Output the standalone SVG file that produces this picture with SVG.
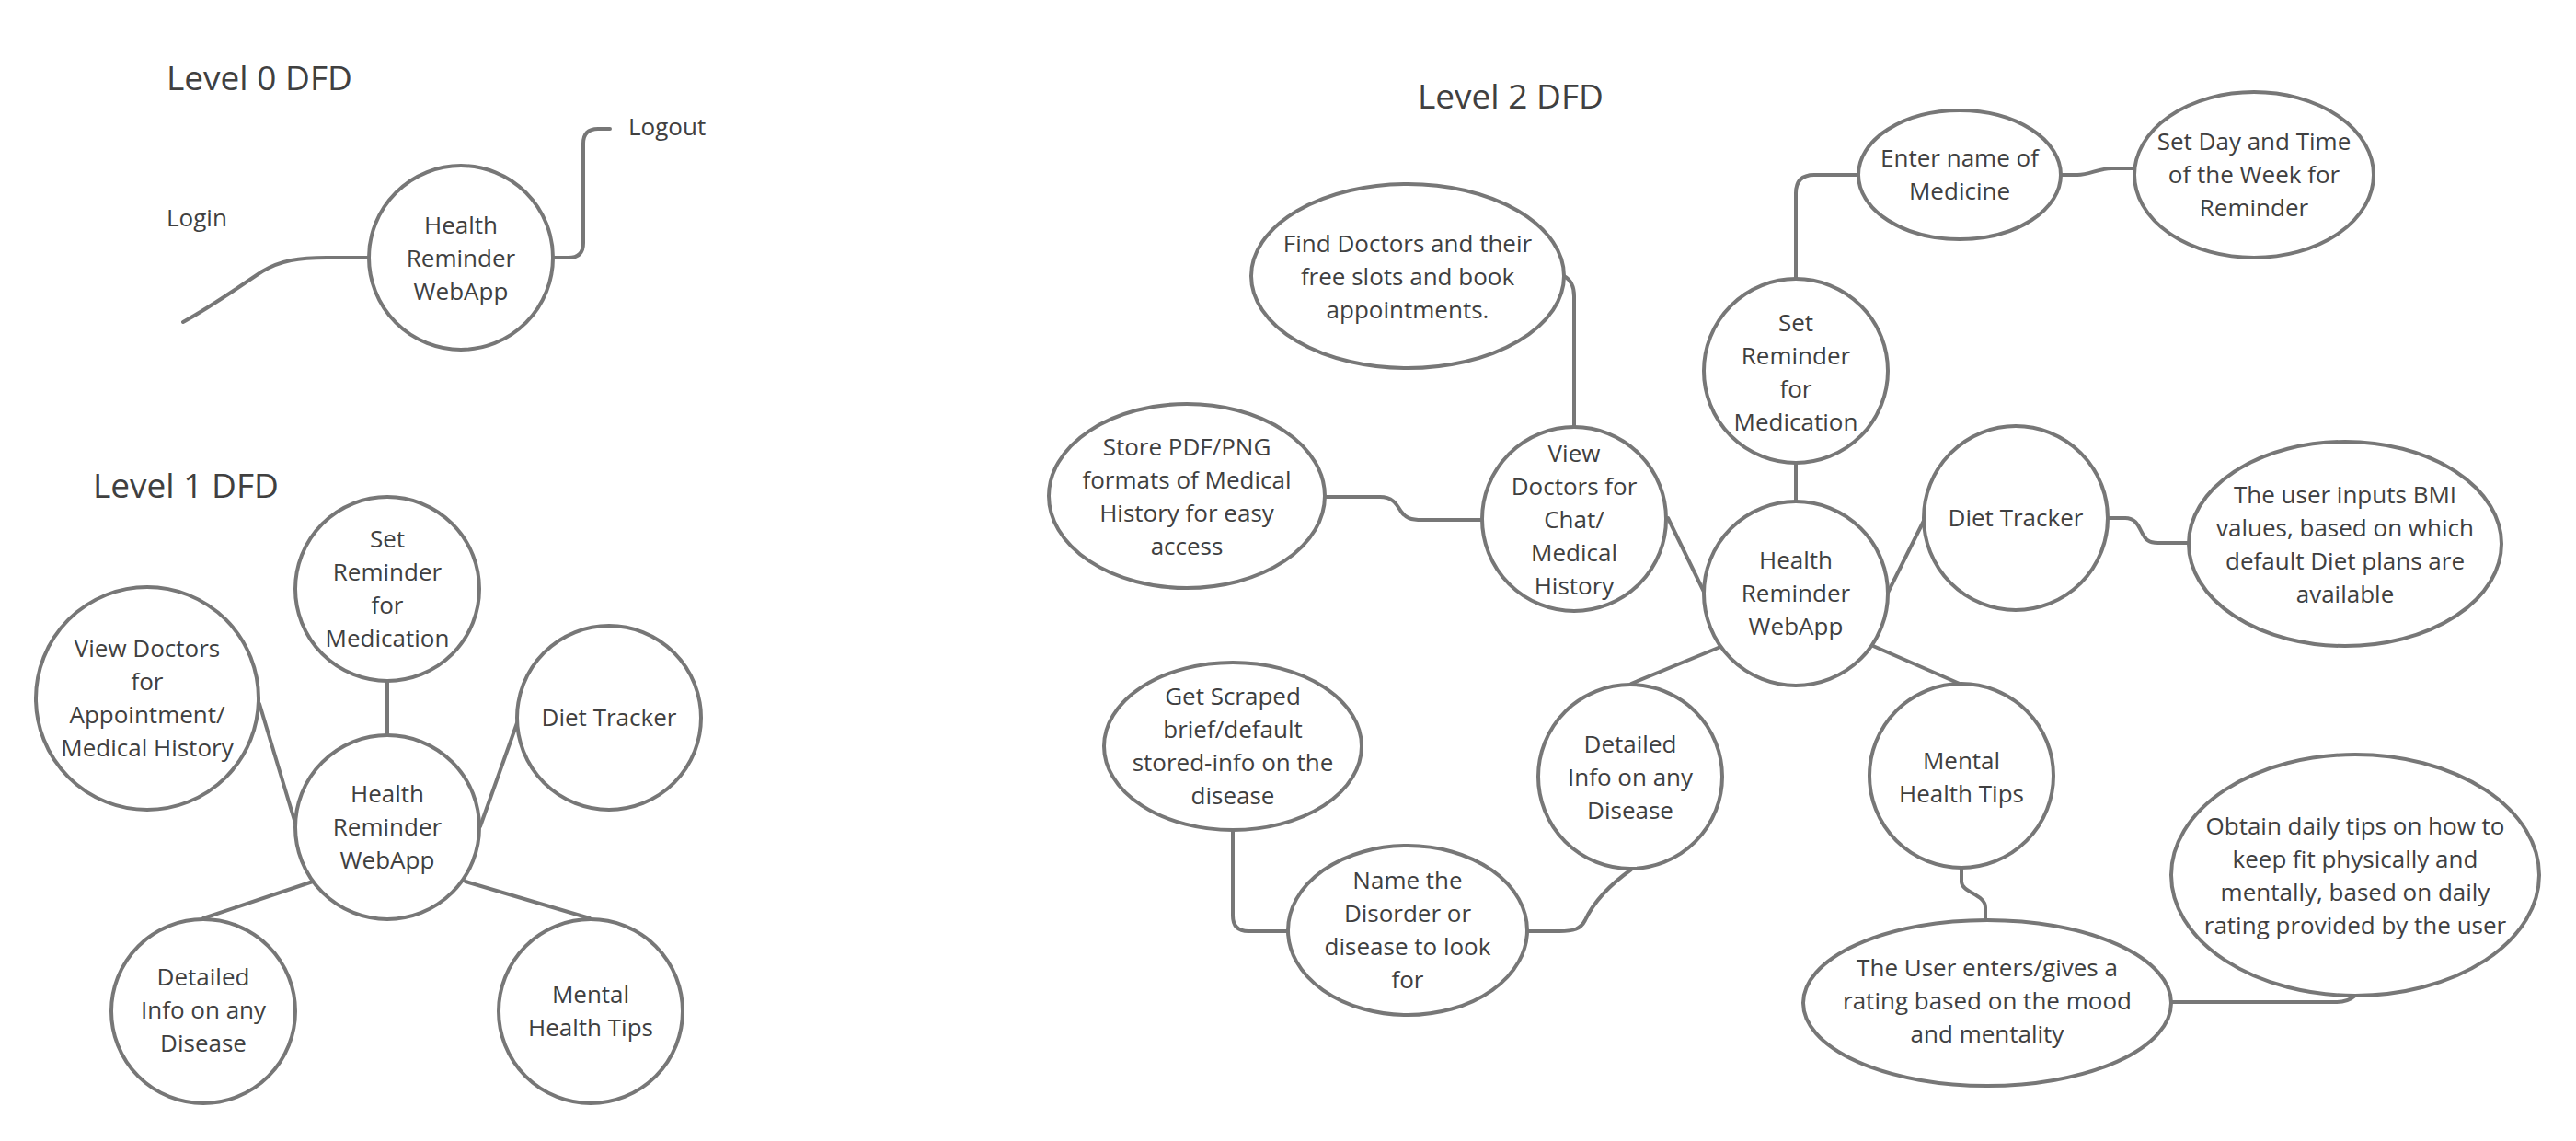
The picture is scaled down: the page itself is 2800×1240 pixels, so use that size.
<svg xmlns="http://www.w3.org/2000/svg" width="2800" height="1240" viewBox="0 0 2800 1240">
<style>
.n{fill:#fff;stroke:#777;stroke-width:4}
.c{fill:none;stroke:#777;stroke-width:4;stroke-linecap:round;stroke-linejoin:round}
text{font-family:"Open Sans","Liberation Sans",sans-serif;fill:#404040}
.t{font-size:26px;text-anchor:middle}
.h{font-size:37px}
.l{font-size:26px}
</style>
<rect width="2800" height="1240" fill="#fff"/>
<g id="connectors">
<path class="c" d="M199,350 C235,330 262,310 285,295 C305,283 325,280 355,280 L400,280"/>
<path class="c" d="M602,280 L618,280 Q634,280 634,264 L634,156 Q634,140 650,140 L663,140"/>
<path class="c" d="M421,740 L421,799"/>
<path class="c" d="M282,765 L322,898"/>
<path class="c" d="M563,783 L522,898"/>
<path class="c" d="M340,958 L221,998"/>
<path class="c" d="M506,958 L641,998"/>
<path class="c" d="M1952,303 L1952,210 Q1952,190 1972,190 L2020,190"/>
<path class="c" d="M2240,190 L2258,190 C2272,190 2280,183 2296,183 L2320,183"/>
<path class="c" d="M1952,503 L1952,545"/>
<path class="c" d="M1700,300 Q1711,306 1711,322 L1711,464"/>
<path class="c" d="M1440,540 L1500,540 C1514,540 1518,548 1523,556 C1528,563 1533,565 1546,565 L1611,565"/>
<path class="c" d="M1813,563 L1852,643"/>
<path class="c" d="M2052,644 L2092,564"/>
<path class="c" d="M2291,563 L2310,563 C2323,563 2325,574 2330,582 C2334,589 2338,590 2350,590 L2379,590"/>
<path class="c" d="M1870,703 L1773,743"/>
<path class="c" d="M2036,702 L2130,743"/>
<path class="c" d="M1773,945 C1745,965 1730,985 1723,1000 C1718,1010 1710,1012 1695,1012 L1660,1012"/>
<path class="c" d="M1340,902 L1340,995 Q1340,1012 1357,1012 L1400,1012"/>
<path class="c" d="M2132,943 L2132,958 C2132,970 2158,972 2158,986 L2158,1000"/>
<path class="c" d="M2360,1089 L2540,1089 Q2552,1089 2560,1082"/>
</g>
<g id="titles">
<text class="h" x="181" y="98">Level 0 DFD</text>
<text class="h" x="101" y="541">Level 1 DFD</text>
<text class="h" x="1541" y="118">Level 2 DFD</text>
</g>
<g id="login"><text class="l" x="181" y="246">Login</text></g>
<g id="logout"><text class="l" x="683" y="147">Logout</text></g>
<g id="l0-app">
<circle class="n" cx="501" cy="280" r="100"/>
<text class="t"><tspan x="501" y="254">Health</tspan><tspan x="501" y="290">Reminder</tspan><tspan x="501" y="326">WebApp</tspan></text>
</g>
<g id="l1-app">
<circle class="n" cx="421" cy="899" r="100"/>
<text class="t"><tspan x="421" y="872">Health</tspan><tspan x="421" y="908">Reminder</tspan><tspan x="421" y="944">WebApp</tspan></text>
</g>
<g id="l1-reminder">
<circle class="n" cx="421" cy="640" r="100"/>
<text class="t"><tspan x="421" y="595">Set</tspan><tspan x="421" y="631">Reminder</tspan><tspan x="421" y="667">for</tspan><tspan x="421" y="703">Medication</tspan></text>
</g>
<g id="l1-doctors">
<circle class="n" cx="160" cy="759" r="121"/>
<text class="t"><tspan x="160" y="714">View Doctors</tspan><tspan x="160" y="750">for</tspan><tspan x="160" y="786">Appointment/</tspan><tspan x="160" y="822">Medical History</tspan></text>
</g>
<g id="l1-diet">
<circle class="n" cx="662" cy="780" r="100"/>
<text class="t"><tspan x="662" y="789">Diet Tracker</tspan></text>
</g>
<g id="l1-disease">
<circle class="n" cx="221" cy="1099" r="100"/>
<text class="t"><tspan x="221" y="1071">Detailed</tspan><tspan x="221" y="1107">Info on any</tspan><tspan x="221" y="1143">Disease</tspan></text>
</g>
<g id="l1-mental">
<circle class="n" cx="642" cy="1099" r="100"/>
<text class="t"><tspan x="642" y="1090">Mental</tspan><tspan x="642" y="1126">Health Tips</tspan></text>
</g>
<g id="l2-find">
<ellipse class="n" cx="1530" cy="300" rx="170" ry="100"/>
<text class="t"><tspan x="1530" y="274">Find Doctors and their</tspan><tspan x="1530" y="310">free slots and book</tspan><tspan x="1530" y="346">appointments.</tspan></text>
</g>
<g id="l2-store">
<ellipse class="n" cx="1290" cy="539" rx="150" ry="100"/>
<text class="t"><tspan x="1290" y="495">Store PDF/PNG</tspan><tspan x="1290" y="531">formats of Medical</tspan><tspan x="1290" y="567">History for easy</tspan><tspan x="1290" y="603">access</tspan></text>
</g>
<g id="l2-doctors">
<circle class="n" cx="1711" cy="564" r="100"/>
<text class="t"><tspan x="1711" y="502">View</tspan><tspan x="1711" y="538">Doctors for</tspan><tspan x="1711" y="574">Chat/</tspan><tspan x="1711" y="610">Medical</tspan><tspan x="1711" y="646">History</tspan></text>
</g>
<g id="l2-reminder">
<circle class="n" cx="1952" cy="403" r="100"/>
<text class="t"><tspan x="1952" y="360">Set</tspan><tspan x="1952" y="396">Reminder</tspan><tspan x="1952" y="432">for</tspan><tspan x="1952" y="468">Medication</tspan></text>
</g>
<g id="l2-app">
<circle class="n" cx="1952" cy="645" r="100"/>
<text class="t"><tspan x="1952" y="618">Health</tspan><tspan x="1952" y="654">Reminder</tspan><tspan x="1952" y="690">WebApp</tspan></text>
</g>
<g id="l2-medicine">
<ellipse class="n" cx="2130" cy="190" rx="110" ry="70"/>
<text class="t"><tspan x="2130" y="181">Enter name of</tspan><tspan x="2130" y="217">Medicine</tspan></text>
</g>
<g id="l2-daytime">
<ellipse class="n" cx="2450" cy="190" rx="130" ry="90"/>
<text class="t"><tspan x="2450" y="163">Set Day and Time</tspan><tspan x="2450" y="199">of the Week for</tspan><tspan x="2450" y="235">Reminder</tspan></text>
</g>
<g id="l2-diet">
<circle class="n" cx="2191" cy="563" r="100"/>
<text class="t"><tspan x="2191" y="572">Diet Tracker</tspan></text>
</g>
<g id="l2-bmi">
<ellipse class="n" cx="2549" cy="591" rx="170" ry="111"/>
<text class="t"><tspan x="2549" y="547">The user inputs BMI</tspan><tspan x="2549" y="583">values, based on which</tspan><tspan x="2549" y="619">default Diet plans are</tspan><tspan x="2549" y="655">available</tspan></text>
</g>
<g id="l2-disease">
<circle class="n" cx="1772" cy="844" r="100"/>
<text class="t"><tspan x="1772" y="818">Detailed</tspan><tspan x="1772" y="854">Info on any</tspan><tspan x="1772" y="890">Disease</tspan></text>
</g>
<g id="l2-scraped">
<ellipse class="n" cx="1340" cy="811" rx="140" ry="91"/>
<text class="t"><tspan x="1340" y="766">Get Scraped</tspan><tspan x="1340" y="802">brief/default</tspan><tspan x="1340" y="838">stored-info on the</tspan><tspan x="1340" y="874">disease</tspan></text>
</g>
<g id="l2-name">
<ellipse class="n" cx="1530" cy="1011" rx="130" ry="92"/>
<text class="t"><tspan x="1530" y="966">Name the</tspan><tspan x="1530" y="1002">Disorder or</tspan><tspan x="1530" y="1038">disease to look</tspan><tspan x="1530" y="1074">for</tspan></text>
</g>
<g id="l2-mental">
<circle class="n" cx="2132" cy="843" r="100"/>
<text class="t"><tspan x="2132" y="836">Mental</tspan><tspan x="2132" y="872">Health Tips</tspan></text>
</g>
<g id="l2-rating">
<ellipse class="n" cx="2160" cy="1090" rx="200" ry="90"/>
<text class="t"><tspan x="2160" y="1061">The User enters/gives a</tspan><tspan x="2160" y="1097">rating based on the mood</tspan><tspan x="2160" y="1133">and mentality</tspan></text>
</g>
<g id="l2-tips">
<ellipse class="n" cx="2560" cy="951" rx="200" ry="131"/>
<text class="t"><tspan x="2560" y="907">Obtain daily tips on how to</tspan><tspan x="2560" y="943">keep fit physically and</tspan><tspan x="2560" y="979">mentally, based on daily</tspan><tspan x="2560" y="1015">rating provided by the user</tspan></text>
</g>
</svg>
